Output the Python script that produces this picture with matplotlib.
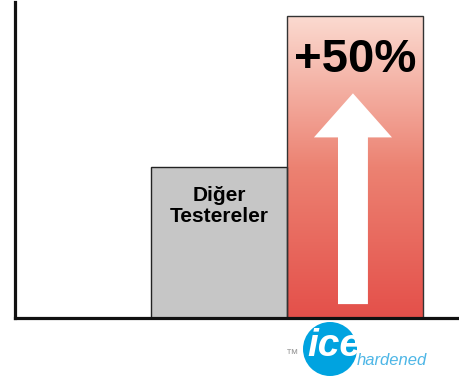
import numpy as np
import matplotlib.pyplot as plt
from matplotlib.patches import Circle, Polygon
from matplotlib.colors import LinearSegmentedColormap

# valores de las barras (el eje empieza en 50)
categorias = ['Diğer\nTestereler', 'ice']
valores = [100, 150]
etiqueta_mejora = '+50%'
base = 50

plt.rcParams['font.family'] = ['Liberation Sans', 'DejaVu Sans']

fig = plt.figure(figsize=(4.59, 3.76), dpi=100)
ax = fig.add_axes([15/459, 58/376, 444/459, 316/376])

x = np.arange(len(valores))
alturas = [v - base for v in valores]

# barra gris
ax.bar(x[0], alturas[0], bottom=base, width=1, align='edge',
       color='#c6c6c6', edgecolor='#222222', linewidth=1, zorder=2)

# barra roja con degradado
degradado = LinearSegmentedColormap.from_list('rojo', ['#e4504a', '#ec8272', '#fbdad0'])
grad = np.linspace(0, 1, 256).reshape(-1, 1)
ax.imshow(grad, cmap=degradado, origin='lower', aspect='auto',
          extent=[x[1], x[1] + 1, base, valores[1]], zorder=1)
ax.bar(x[1], alturas[1], bottom=base, width=1, align='edge',
       facecolor='none', edgecolor='#333333', linewidth=1, zorder=2)

# flecha blanca dentro de la barra roja
cx = x[1] + 0.485
flecha = [(cx - 0.11, 54.6), (cx + 0.11, 54.6), (cx + 0.11, 109.8),
          (cx + 0.287, 109.8), (cx, 124.4), (cx - 0.287, 109.8),
          (cx - 0.11, 109.8)]
ax.add_patch(Polygon(flecha, closed=True, facecolor='white', edgecolor='none', zorder=3))

ax.text(x[1] + 0.5, 135.4, etiqueta_mejora, ha='center', va='center',
        fontsize=34, fontweight='bold', color='black', zorder=4)
ax.text(x[0] + 0.5, 87.2, categorias[0], ha='center', va='center',
        fontsize=15, fontweight='bold', color='black', linespacing=1.12, zorder=4)

ax.set_xlim(-1, 444/136 - 1)
ax.set_ylim(base, base + 316/3.02)
ax.set_xticks([])
ax.set_yticks([])
ax.spines['top'].set_visible(False)
ax.spines['right'].set_visible(False)
for lado in ['left', 'bottom']:
    ax.spines[lado].set_linewidth(2.3)
    ax.spines[lado].set_color('#111111')

# logo debajo del eje
lax = fig.add_axes([0, 0, 1, 1])
lax.set_xlim(0, 459)
lax.set_ylim(376, 0)
lax.axis('off')
lax.patch.set_visible(False)
lax.add_patch(Circle((330, 349), 27, facecolor='#00a3e0', edgecolor='none'))
lax.text(334, 346, 'ice', ha='center', va='center', fontsize=28,
         fontweight='bold', fontstyle='italic', color='white')
lax.text(357, 365, 'hardened', ha='left', va='baseline', fontsize=12,
         fontstyle='italic', color='#4db6e6')
lax.text(286, 358, '™', ha='left', va='baseline', fontsize=9, color='#999999')

fig.savefig('out.png', dpi=100)
